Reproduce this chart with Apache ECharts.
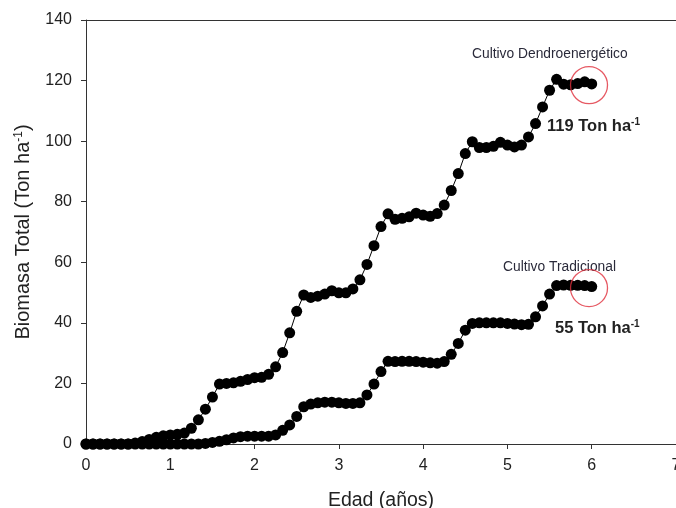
<!DOCTYPE html>
<html>
<head>
<meta charset="utf-8">
<script src="https://cdn.jsdelivr.net/npm/echarts@6/dist/echarts.min.js"></script>
<style>
html,body{margin:0;padding:0;background:#fff;}
#c{width:676px;height:508px;}
</style>
</head>
<body>
<div id="c"></div>
<script>
// Age in months -> years (monthly samples, 0..6 years)
const months = Array.from({length: 73}, (_, i) => i);
const xTicks = [0, 1, 2, 3, 4, 5, 6, 7];
const yTicks = [0, 20, 40, 60, 80, 100, 120, 140];

// Cultivo Dendroenergético (Ton/ha)
const dendro = [
  0, 0, 0, 0, 0, 0, 0, 0.3, 0.8, 1.5, 2.2, 2.7,
  3.0, 3.2, 3.6, 5.2, 8.0, 11.5, 15.5, 19.8, 20.0, 20.2, 20.7, 21.3,
  21.9, 22.0, 23.0, 25.5, 30.2, 36.7, 43.8, 49.2, 48.4, 48.8, 49.5, 50.6,
  49.9, 49.9, 51.2, 54.2, 59.3, 65.5, 71.8, 76.0, 74.2, 74.5, 75.0, 76.2,
  75.6, 75.2, 76.1, 78.9, 83.7, 89.3, 95.9, 99.8, 97.9, 97.9, 98.3, 99.6,
  98.7, 98.1, 98.7, 101.4, 105.8, 111.3, 116.8, 120.4, 118.8, 118.6, 119.0, 119.6,
  118.9
];
// Cultivo Tradicional (Ton/ha)
const tradicional = [
  0, 0, 0, 0, 0, 0, 0, 0, 0, 0, 0, 0,
  0, 0, 0, 0, 0, 0.2, 0.5, 0.9, 1.4, 2.0, 2.4, 2.6,
  2.6, 2.6, 2.6, 3.0, 4.5, 6.3, 9.1, 12.3, 13.2, 13.6, 13.8, 13.8,
  13.6, 13.4, 13.4, 13.6, 16.2, 19.8, 23.9, 27.3, 27.2, 27.3, 27.3, 27.2,
  27.0, 26.8, 26.7, 27.2, 29.6, 33.2, 37.6, 39.8, 40.0, 40.0, 40.0, 40.0,
  39.8, 39.6, 39.4, 39.5, 42.0, 45.6, 49.5, 52.3, 52.5, 52.4, 52.4, 52.3,
  52.0
];
// Highlighted final values (circles), in data coordinates [age, biomass]
const highlights = [[5.968, 118.5], [5.968, 51.5]];
const labelsTop = ['Cultivo Dendroenergético', 'Cultivo Tradicional'];
const finalValues = ['119', '55'];

const toPairs = arr => arr.map((v, i) => [months[i] / 12, v]);

const chart = echarts.init(document.getElementById('c'));
const font = 'Liberation Sans, Arial, sans-serif';

chart.setOption({
  animation: false,
  backgroundColor: '#fff',
  grid: {left: 86, top: 20, right: 0, bottom: 64, containLabel: false, outerBoundsMode: 'none'},
  xAxis: [{
    type: 'value', min: 0, max: 7, interval: 1,
    name: 'Edad (años)', nameLocation: 'middle', nameGap: 47,
    nameTextStyle: {fontFamily: font, fontSize: 19.5, color: '#222'},
    axisLine: {show: true, lineStyle: {color: '#333', width: 1}},
    axisTick: {show: true, inside: false, length: 5, lineStyle: {color: '#333'}},
    axisLabel: {fontFamily: font, fontSize: 16, color: '#222', margin: 14,
      formatter: v => xTicks.includes(v) ? String(v) : ''},
    splitLine: {show: false}
  }, {
    type: 'value', min: 0, max: 7, position: 'top',
    axisLine: {show: true, lineStyle: {color: '#333', width: 1}},
    axisTick: {show: false}, axisLabel: {show: false}, splitLine: {show: false}
  }],
  yAxis: {
    type: 'value', min: 0, max: 140, interval: 20,
    name: '{n|Biomasa Total (Ton ha}{s|-1}{n|)}', nameLocation: 'middle', nameGap: 52,
    nameRotate: 90,
    nameTextStyle: {rich: {
      n: {fontFamily: font, fontSize: 20, color: '#222'},
      s: {fontFamily: font, fontSize: 12, color: '#222', verticalAlign: 'top', padding: [0, 0, 9, 0]}
    }},
    axisLine: {show: true, lineStyle: {color: '#333', width: 1}},
    axisTick: {show: true, inside: false, length: 5, lineStyle: {color: '#333'}},
    axisLabel: {fontFamily: font, fontSize: 16, color: '#222', margin: 14,
      formatter: v => yTicks.includes(v) ? String(v) : ''},
    splitLine: {show: false}
  },
  series: [{
    type: 'line', data: toPairs(dendro), symbol: 'circle', symbolSize: 11,
    showAllSymbol: true,
    lineStyle: {color: '#000', width: 1}, itemStyle: {color: '#000'}
  }, {
    type: 'line', data: toPairs(tradicional), symbol: 'circle', symbolSize: 11,
    showAllSymbol: true,
    lineStyle: {color: '#000', width: 1}, itemStyle: {color: '#000'}
  }, {
    type: 'scatter', data: highlights, symbol: 'circle', symbolSize: 37,
    itemStyle: {color: 'rgba(0,0,0,0)', borderColor: '#e0303c', borderWidth: 1.3},
    z: 5
  }],
  graphic: [
    {type: 'text', left: 472, top: 47, style: {text: labelsTop[0], font: '13.8px ' + font, fill: '#2a2a3a'}},
    {type: 'text', left: 503, top: 260, style: {text: labelsTop[1], font: '13.8px ' + font, fill: '#2a2a3a'}},
    {type: 'text', left: 547, top: 117, style: {
      text: '{b|' + finalValues[0] + ' Ton ha}{s|-1}',
      rich: {b: {font: 'bold 16.5px ' + font, fill: '#222'}, s: {font: 'bold 10px ' + font, fill: '#222', verticalAlign: 'top', padding: [0,0,8,0]}}
    }},
    {type: 'text', left: 555, top: 319, style: {
      text: '{b|' + finalValues[1] + ' Ton ha}{s|-1}',
      rich: {b: {font: 'bold 16.5px ' + font, fill: '#222'}, s: {font: 'bold 10px ' + font, fill: '#222', verticalAlign: 'top', padding: [0,0,8,0]}}
    }}
  ]
});
</script>
</body>
</html>
